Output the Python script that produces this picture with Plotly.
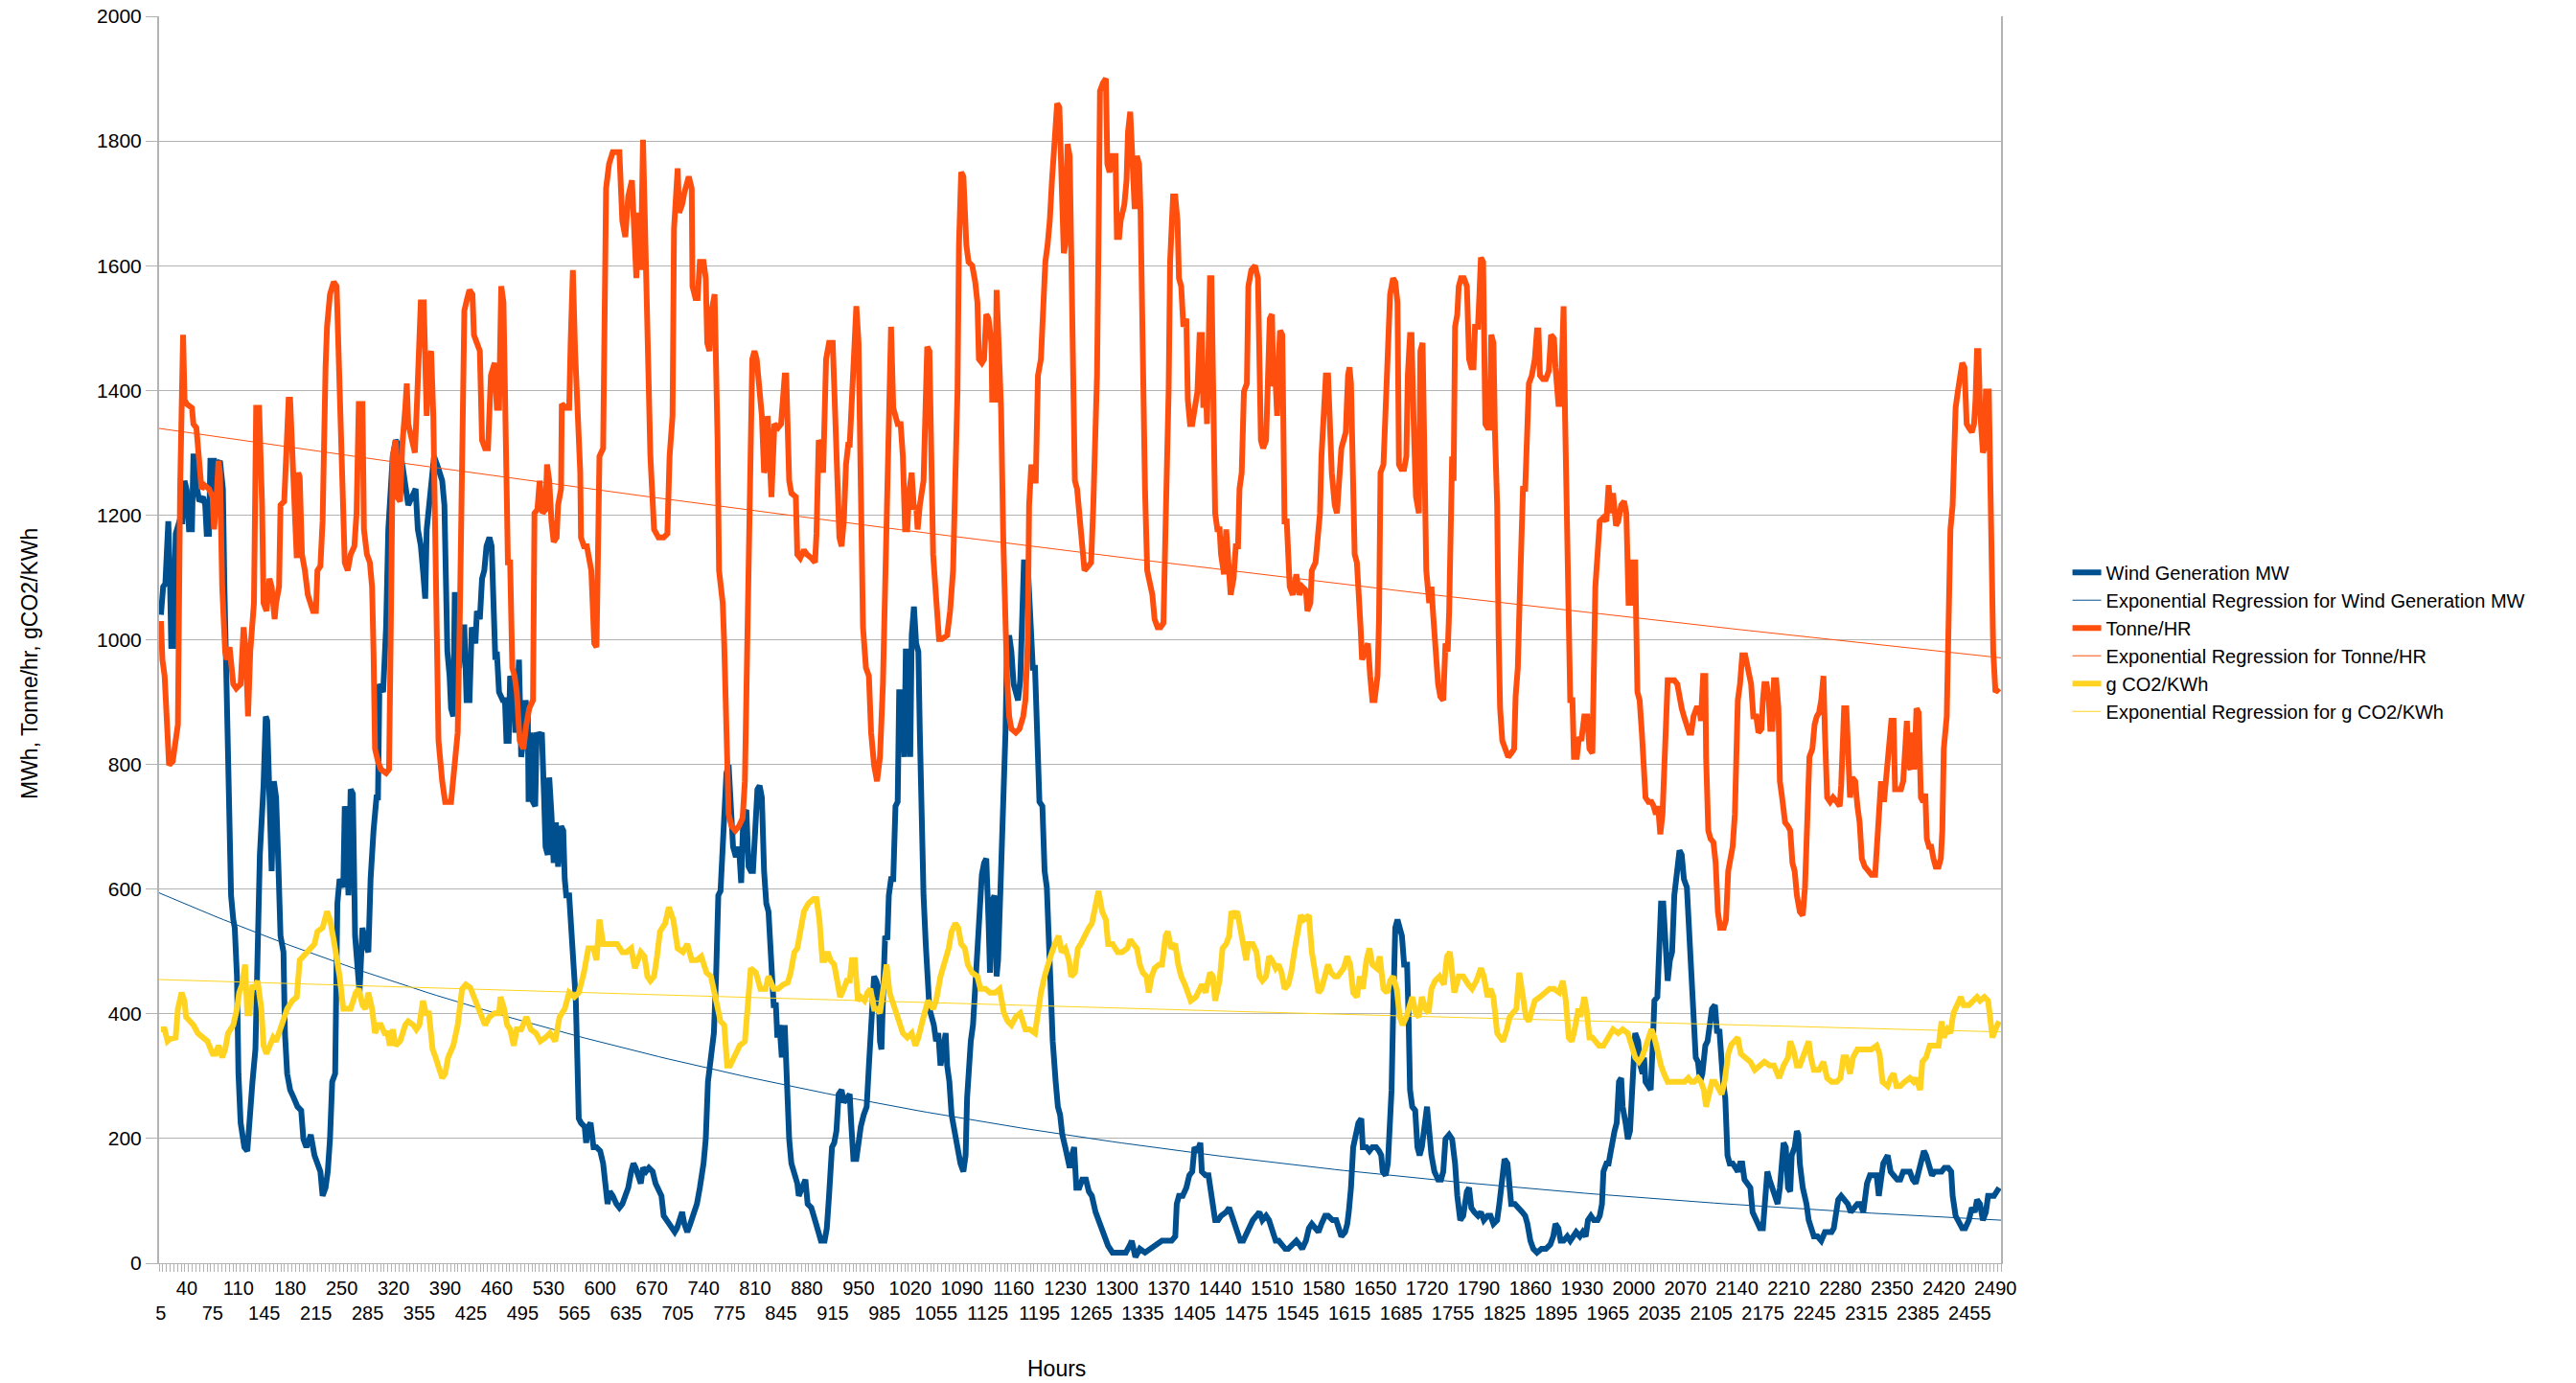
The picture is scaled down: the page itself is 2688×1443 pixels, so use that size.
import numpy as np
import plotly.graph_objects as go

# ---------------- data (hour, value) ----------------
wind_points = [
    (5,1040),(8,1085),(11,1090),(13,1160),(15,1190),(17,1110),(19,990),(22,990),(25,1170),(30,1190),(34,1190),
    (37,1255),(40,1240),(43,1177),(47,1177),(49,1294),(51,1294),(54,1242),(57,1222),(62,1229),(65,1216),(67,1170),
    (70,1170),(72,1287),(77,1287),(79,1229),(81,1281),(85,1287),(89,1242),(91,1085),(93,955),(96,812),(98,720),
    (100,590),(103,551),(105,538),(108,460),(110,304),(113,225),(118,186),(122,180),(125,238),(129,291),(133,343),
    (136,512),(139,655),(144,766),(147,877),(149,870),(152,747),(155,629),(158,773),(161,747),(164,642),(167,525),
    (171,499),(173,369),(176,304),(180,278),(185,265),(190,251),(195,245),(198,199),(202,186),(208,206),(213,173),
    (217,160),(221,147),(224,108),(228,121),(231,147),(234,199),(237,291),(241,304),(244,577),(247,616),(252,603),
    (254,733),(256,720),(259,590),(262,760),(265,753),(268,525),(271,486),(274,434),(278,538),(282,512),(286,499),
    (289,616),(293,694),(297,747),(299,747),(301,929),(306,916),(310,1020),(313,1177),(316,1242),(319,1294),
    (323,1320),(327,1313),(332,1281),(336,1242),(340,1216),(345,1229),(350,1242),(353,1177),(357,1151),(360,1111),
    (363,1066),(365,1177),(368,1216),(373,1268),(375,1294),(381,1274),(386,1255),(389,1216),(391,1111),(393,981),
    (396,942),(398,890),(401,877),(403,1072),(407,1072),(409,955),(413,1020),(416,1020),(419,903),(423,903),
    (426,1020),(431,994),(433,1046),(437,1033),(440,1098),(443,1111),(446,1150),(450,1164),(453,1150),(456,1059),
    (458,968),(460,981),(463,916),(468,903),(471,903),(473,838),(476,838),(478,942),(483,916),(485,851),(487,877),
    (490,968),(493,812),(497,851),(499,903),(502,877),(503,740),(506,851),(509,740),(512,733),(514,851),(517,844),
    (521,851),(524,747),(526,668),(529,655),(531,779),(534,720),(537,642),(540,707),(543,636),(547,701),(550,694),
    (552,616),(554,590),(558,590),(561,525),(564,460),(567,421),(569,330),(571,232),(574,225),(579,219),(581,193),
    (584,219),(587,225),(591,186),(595,186),(600,180),(604,160),(607,121),(610,95),(613,115),(617,108),(622,95),
    (626,89),(630,95),(634,108),(638,121),(642,147),(645,160),(648,153),(651,141),(655,128),(658,153),(662,147),
    (666,153),(671,147),(675,128),(679,115),(683,108),(686,76),(690,69),(694,63),(698,56),(701,50),(704,56),
    (707,69),(711,82),(714,63),(718,50),(722,63),(727,82),(731,95),(735,121),(740,160),(743,199),(746,291),
    (750,330),(754,369),(757,460),(760,590),(763,597),(766,668),(768,747),(771,786),(774,799),(777,720),(780,668),
    (783,655),(786,655),(788,668),(791,610),(794,720),(798,727),(801,636),(804,629),(807,629),(810,720),(813,760),
    (816,766),(819,747),(822,629),(825,577),(828,564),(832,460),(835,414),(838,414),(840,362),(843,382),(846,330),
    (850,382),(853,271),(856,199),(859,160),(863,141),(867,128),(869,108),(873,121),(878,134),(881,95),(886,89),
    (891,69),(895,50),(899,36),(904,36),(907,56),(910,108),(914,186),(917,193),(920,212),(923,271),(927,278),
    (930,258),(934,265),(938,271),(940,225),(943,167),(947,167),(950,199),(953,219),(957,238),(961,251),(964,317),
    (967,382),(971,460),(974,453),(977,440),(979,356),(981,343),(984,460),(986,525),(989,519),(991,590),(994,616),
    (997,616),(1000,733),(1003,740),(1005,916),(1009,916),(1012,812),(1014,981),(1018,981),(1020,812),(1022,1007),
    (1025,1053),(1028,994),(1031,981),(1033,851),(1035,720),(1038,590),(1041,512),(1043,460),(1046,408),(1049,395),
    (1052,382),(1055,356),(1058,369),(1061,317),(1065,356),(1068,369),(1070,317),(1073,291),(1076,238),(1081,206),
    (1085,186),(1088,160),(1092,147),(1095,173),(1097,265),(1099,317),(1102,356),(1105,382),(1108,440),(1111,512),
    (1114,538),(1117,623),(1120,642),(1123,649),(1126,551),(1128,466),(1130,577),(1134,590),(1137,460),(1139,486),
    (1143,629),(1146,720),(1149,851),(1151,981),(1154,1007),(1157,981),(1160,929),(1163,916),(1166,903),(1169,935),
    (1171,1033),(1174,1124),(1179,1124),(1182,1033),(1186,955),(1189,955),(1191,851),(1193,760),(1195,740),
    (1199,733),(1202,629),(1205,603),(1207,525),(1210,434),(1213,356),(1217,291),(1220,251),(1223,238),(1226,206),
    (1230,186),(1233,173),(1236,153),(1239,173),(1242,186),(1245,121),(1249,121),(1253,134),(1258,134),(1262,115),
    (1266,108),(1271,82),(1275,69),(1279,60),(1284,43),(1288,28),(1294,17),(1303,17),(1312,17),(1318,30),(1320,36),
    (1325,10),(1331,23),(1338,17),(1346,23),(1355,30),(1361,36),(1368,36),(1374,36),(1379,43),(1381,95),(1384,108),
    (1389,108),(1394,121),(1398,141),(1402,147),(1405,186),(1409,180),(1413,193),(1415,147),(1420,141),(1424,141),
    (1426,121),(1429,95),(1433,69),(1437,69),(1441,76),(1448,82),(1452,89),(1454,82),(1459,63),(1463,50),(1467,36),
    (1471,36),(1476,50),(1480,63),(1484,69),(1489,76),(1493,82),(1497,69),(1502,76),(1506,69),(1510,56),(1515,36),
    (1519,36),(1523,30),(1528,23),(1532,23),(1538,30),(1543,36),(1547,30),(1551,23),(1556,36),(1560,56),(1564,63),
    (1569,56),(1573,50),(1577,63),(1582,76),(1586,76),(1592,69),(1597,69),(1600,56),(1604,43),(1609,50),(1612,63),
    (1614,82),(1617,121),(1620,186),(1623,206),(1627,225),(1631,232),(1633,186),(1638,186),(1642,180),(1646,186),
    (1651,186),(1655,180),(1658,173),(1660,147),(1664,141),(1667,160),(1670,212),(1672,278),(1674,395),(1677,538),
    (1680,551),(1683,538),(1686,525),(1689,479),(1693,479),(1695,395),(1697,278),(1700,251),(1704,245),(1707,186),
    (1710,173),(1713,186),(1717,219),(1720,251),(1723,212),(1726,173),(1730,147),(1735,134),(1739,134),(1742,147),
    (1745,199),(1750,206),(1754,199),(1758,160),(1761,108),(1765,69),(1769,76),(1774,115),(1777,121),(1780,89),
    (1784,82),(1789,76),(1793,82),(1797,69),(1802,76),(1806,76),(1810,63),(1815,69),(1818,95),(1821,128),(1825,167),
    (1829,160),(1832,121),(1834,95),(1839,95),(1845,89),(1849,82),(1853,76),(1856,63),(1860,36),(1864,23),(1869,17),
    (1875,23),(1881,23),(1887,30),(1891,43),(1894,63),(1898,56),(1901,36),(1905,36),(1910,43),(1914,36),(1918,43),
    (1922,50),(1927,43),(1931,50),(1935,43),(1938,69),(1942,76),(1946,69),(1951,69),(1954,76),(1957,95),(1959,147),
    (1963,160),(1966,160),(1969,180),(1971,199),(1974,212),(1977,225),(1980,291),(1983,297),(1985,251),(1989,225),
    (1992,199),(1995,212),(1997,258),(2000,330),(2002,369),(2006,356),(2009,317),(2012,304),(2014,330),(2016,291),
    (2020,284),(2023,278),(2026,356),(2028,421),(2032,427),(2035,538),(2037,577),(2040,577),(2043,525),(2046,453),
    (2049,486),(2052,499),(2055,590),(2059,629),(2062,662),(2065,655),(2068,616),(2072,603),(2075,538),(2078,486),
    (2081,408),(2084,330),(2087,323),(2090,291),(2093,304),(2097,349),(2100,356),(2103,382),(2106,408),(2110,414),
    (2113,369),(2116,375),(2118,330),(2121,291),(2124,265),(2127,173),(2130,160),(2134,160),(2138,153),(2141,147),
    (2144,160),(2147,160),(2150,134),(2154,128),(2158,121),(2161,82),(2166,69),(2171,56),(2175,56),(2178,121),
    (2181,147),(2184,134),(2187,121),(2190,108),(2195,95),(2198,121),(2200,147),(2203,193),(2206,186),(2209,121),
    (2212,115),(2214,173),(2218,186),(2221,212),(2223,206),(2225,160),(2229,121),(2234,95),(2237,69),(2240,56),
    (2244,43),(2249,43),(2254,36),(2259,50),(2264,50),(2268,50),(2271,56),(2274,82),(2277,102),(2281,108),(2285,102),
    (2290,95),(2294,82),(2298,89),(2303,95),(2307,95),(2311,82),(2316,128),(2320,141),(2324,141),(2329,141),
    (2332,108),(2335,128),(2338,160),(2344,173),(2348,147),(2352,141),(2357,134),(2361,134),(2365,147),(2370,147),
    (2374,147),(2378,134),(2382,128),(2386,147),(2390,167),(2393,180),(2396,173),(2400,153),(2404,141),(2408,147),
    (2413,147),(2417,147),(2421,153),(2426,153),(2430,147),(2432,108),(2436,76),(2441,63),(2445,56),(2449,56),
    (2454,69),(2458,89),(2462,82),(2465,102),(2469,95),(2473,69),(2477,82),(2480,108),(2484,108),(2488,108),
    (2495,121),
]

tonne_points = [
    (5,1030),(7,968),(10,942),(14,825),(16,799),(21,805),(25,838),(28,864),(31,1242),(35,1489),(37,1385),(40,1378),
    (47,1372),(49,1346),(53,1340),(57,1268),(60,1242),(64,1248),(70,1242),(75,1229),(77,1177),(81,1242),(83,1287),
    (85,1268),(88,1085),(92,981),(94,968),(98,988),(103,929),(107,922),(113,929),(117,1020),(120,981),(123,877),
    (126,981),(131,1059),(134,1372),(138,1372),(142,1216),(144,1059),(148,1046),(152,1098),(155,1085),(159,1033),
    (161,1059),(165,1085),(167,1216),(172,1222),(174,1281),(178,1385),(180,1385),(183,1294),(185,1203),(189,1131),
    (191,1268),(193,1261),(196,1137),(200,1111),(204,1072),(211,1046),(215,1046),(217,1111),(221,1118),(224,1190),
    (228,1437),(230,1502),(234,1554),(239,1574),(243,1567),(245,1476),(247,1411),(250,1294),(254,1124),(258,1111),
    (262,1137),(267,1150),(270,1203),(273,1378),(278,1378),(280,1177),(284,1137),(288,1124),(291,1085),(293,981),
    (295,825),(299,805),(303,792),(310,786),(314,792),(316,981),(319,1294),(323,1320),(325,1229),(329,1222),
    (332,1313),(336,1372),(338,1411),(340,1346),(344,1320),(349,1300),(352,1385),(355,1463),(357,1541),(361,1541),
    (363,1411),(365,1359),(368,1450),(371,1463),(374,1359),(376,1216),(377,1059),(379,968),(381,838),(386,773),
    (390,740),(398,740),(403,799),(407,851),(410,1046),(414,1294),(416,1528),(420,1548),(423,1561),(427,1554),
    (429,1489),(433,1476),(437,1463),(440,1320),(444,1307),(448,1307),(452,1424),(457,1444),(460,1372),(463,1372),
    (466,1567),(469,1541),(472,1320),(475,1124),(478,1124),(481,955),(484,942),(487,916),(491,838),(496,825),
    (500,864),(504,890),(509,903),(511,1203),(515,1209),(518,1255),(522,1203),(526,1209),(528,1281),(531,1255),
    (534,1190),(537,1157),(541,1164),(543,1216),(547,1242),(548,1378),(554,1372),(558,1372),(560,1476),(563,1593),
    (566,1463),(569,1372),(573,1268),(574,1164),(578,1150),(582,1150),(585,1124),(588,1111),(592,994),(595,988),
    (597,1137),(599,1294),(604,1307),(606,1633),(608,1724),(612,1763),(617,1782),(621,1782),(626,1782),(630,1672),
    (634,1646),(638,1711),(643,1737),(646,1659),(649,1580),(652,1685),(655,1593),(658,1802),(661,1633),(663,1593),
    (666,1411),(668,1294),(673,1177),(679,1164),(686,1164),(691,1170),(694,1294),(698,1359),(700,1659),(703,1711),
    (705,1756),(707,1685),(711,1698),(714,1717),(720,1743),(724,1724),(725,1567),(729,1548),(732,1548),(735,1606),
    (740,1606),(743,1580),(745,1476),(748,1463),(751,1528),(755,1554),(757,1463),(759,1320),(761,1111),(766,1059),
    (768,994),(771,838),(774,720),(778,701),(783,694),(788,701),(793,714),(796,773),(799,981),(801,1085),(803,1294),
    (806,1450),(809,1463),(812,1450),(815,1411),(819,1359),(822,1268),(825,1281),(827,1359),(830,1242),(832,1229),
    (836,1346),(841,1340),(845,1346),(850,1424),(852,1424),(854,1320),(856,1255),(859,1235),(865,1229),(867,1137),
    (871,1131),(876,1144),(880,1137),(886,1131),(891,1124),(893,1170),(896,1320),(899,1313),(902,1268),(904,1359),
    (906,1450),(910,1476),(915,1476),(918,1372),(921,1268),(924,1164),(927,1150),(930,1190),(933,1281),(936,1313),
    (938,1313),(940,1372),(944,1476),(947,1535),(950,1476),(953,1203),(956,1020),(960,955),(964,942),(967,851),
    (971,799),(975,773),(979,812),(983,929),(986,1111),(989,1294),(992,1476),(994,1502),(997,1372),(1000,1359),
    (1003,1346),(1007,1346),(1010,1294),(1013,1177),(1016,1177),(1019,1242),(1022,1268),(1025,1209),(1028,1216),
    (1030,1177),(1033,1216),(1038,1255),(1041,1372),(1043,1470),(1046,1463),(1048,1294),(1051,1137),(1054,1085),
    (1057,1033),(1059,1001),(1063,1001),(1070,1007),(1074,1046),(1078,1111),(1081,1255),(1084,1398),(1086,1633),
    (1089,1750),(1092,1743),(1096,1633),(1099,1606),(1104,1600),(1108,1574),(1111,1541),(1113,1450),(1117,1444),
    (1120,1450),(1123,1522),(1126,1515),(1130,1476),(1131,1385),(1135,1385),(1137,1561),(1139,1502),(1141,1398),
    (1143,1372),(1146,1164),(1149,1007),(1151,942),(1154,877),(1157,857),(1163,851),(1168,857),(1173,877),(1176,903),
    (1179,994),(1181,1216),(1184,1281),(1187,1255),(1190,1255),(1193,1424),(1197,1450),(1200,1548),(1203,1606),
    (1206,1633),(1209,1672),(1212,1737),(1216,1795),(1219,1860),(1222,1854),(1225,1698),(1228,1620),(1230,1633),
    (1233,1795),(1236,1776),(1238,1593),(1241,1398),(1243,1255),(1246,1242),(1249,1203),(1253,1150),(1256,1111),
    (1261,1118),(1265,1124),(1268,1216),(1271,1320),(1273,1424),(1275,1633),(1277,1880),(1281,1893),(1285,1900),
    (1287,1763),(1290,1750),(1294,1776),(1298,1776),(1300,1646),(1303,1646),(1305,1672),(1310,1698),(1313,1737),
    (1315,1815),(1318,1847),(1320,1789),(1324,1691),(1327,1776),(1330,1763),(1332,1685),(1335,1411),(1338,1242),
    (1341,1111),(1344,1092),(1348,1072),(1351,1033),(1355,1020),(1359,1020),(1363,1027),(1366,1190),(1368,1268),
    (1370,1398),(1372,1606),(1376,1711),(1379,1711),(1382,1672),(1384,1580),(1387,1567),(1390,1502),(1394,1515),
    (1396,1385),(1399,1346),(1402,1346),(1406,1385),(1409,1398),(1412,1489),(1415,1489),(1417,1372),(1420,1424),
    (1422,1346),(1424,1489),(1426,1580),(1428,1580),(1430,1411),(1433,1203),(1436,1177),(1439,1177),(1441,1137),
    (1445,1105),(1448,1177),(1451,1124),(1454,1072),(1458,1098),(1461,1150),(1464,1150),(1466,1242),(1469,1268),
    (1472,1398),(1476,1411),(1478,1567),(1482,1593),(1487,1600),(1491,1580),(1493,1372),(1495,1320),(1498,1307),
    (1502,1320),(1505,1437),(1507,1515),(1510,1522),(1512,1411),(1515,1411),(1517,1359),(1519,1450),(1521,1496),
    (1524,1489),(1527,1190),(1530,1190),(1532,1111),(1534,1085),(1538,1072),(1543,1105),(1547,1072),(1551,1085),
    (1556,1079),(1558,1046),(1562,1059),(1564,1111),(1569,1124),(1572,1164),(1575,1203),(1577,1294),(1580,1346),
    (1583,1424),(1586,1424),(1589,1346),(1591,1268),(1595,1216),(1598,1203),(1601,1255),(1604,1307),(1607,1320),
    (1610,1333),(1613,1424),(1615,1437),(1617,1411),(1619,1268),(1622,1137),(1625,1124),(1628,1072),(1630,1020),
    (1632,968),(1636,981),(1640,994),(1643,942),(1646,903),(1649,903),(1653,942),(1655,1033),(1657,1268),(1661,1281),
    (1664,1372),(1666,1437),(1668,1502),(1670,1554),(1674,1580),(1677,1574),(1680,1541),(1682,1281),(1685,1274),
    (1689,1274),(1692,1294),(1694,1424),(1697,1489),(1699,1489),(1702,1346),(1705,1230),(1709,1203),(1711,1463),
    (1714,1476),(1717,1294),(1719,1111),(1723,1059),(1726,1085),(1728,1046),(1731,981),(1735,929),(1738,909),
    (1742,903),(1745,994),(1748,981),(1750,1046),(1752,1190),(1754,1294),(1756,1255),(1758,1502),(1761,1522),
    (1763,1567),(1766,1580),(1770,1580),(1774,1567),(1777,1450),(1780,1437),(1783,1437),(1785,1502),(1789,1502),
    (1791,1554),(1793,1613),(1796,1606),(1799,1346),(1802,1340),(1805,1340),(1807,1489),(1810,1476),(1812,1333),
    (1815,1216),(1817,1007),(1819,890),(1822,838),(1825,825),(1830,812),(1834,818),(1838,825),(1840,909),(1843,955),
    (1846,1085),(1848,1164),(1850,1242),(1853,1242),(1856,1333),(1858,1411),(1862,1424),(1866,1450),(1869,1496),
    (1871,1496),(1873,1424),(1877,1418),(1881,1418),(1885,1431),(1888,1489),(1892,1483),(1894,1437),(1898,1378),
    (1901,1378),(1903,1476),(1905,1535),(1907,1359),(1910,1203),(1912,1033),(1914,903),(1917,903),(1919,812),
    (1923,812),(1926,844),(1929,838),(1933,877),(1937,877),(1940,825),(1944,818),(1946,1033),(1948,1085),(1951,1137),
    (1954,1190),(1959,1196),(1963,1190),(1966,1248),(1969,1203),(1972,1235),(1976,1183),(1979,1190),(1983,1216),
    (1987,1222),(1990,1203),(1993,1059),(1996,1059),(1998,1124),(2002,1124),(2005,916),(2008,903),(2011,851),
    (2013,799),(2016,747),(2020,740),(2024,740),(2027,733),(2030,720),(2033,733),(2036,688),(2039,720),(2041,799),
    (2043,877),(2046,935),(2050,935),(2055,935),(2059,929),(2062,903),(2065,890),(2068,877),(2072,857),(2075,851),
    (2078,851),(2081,877),(2085,890),(2089,890),(2091,870),(2094,942),(2097,942),(2098,812),(2101,694),(2104,681),
    (2108,675),(2111,642),(2114,564),(2117,538),(2122,538),(2125,551),(2128,629),(2131,655),(2134,668),(2137,720),
    (2139,800),(2141,903),(2144,929),(2147,975),(2151,975),(2156,942),(2159,929),(2162,877),(2166,877),(2169,851),
    (2173,857),(2175,903),(2177,929),(2180,929),(2183,903),(2185,857),(2188,857),(2190,935),(2193,935),(2196,890),
    (2198,773),(2201,747),(2205,707),(2209,701),(2212,694),(2215,642),(2218,629),(2221,590),(2225,564),(2229,558),
    (2232,603),(2235,707),(2238,812),(2242,825),(2245,864),(2248,877),(2251,883),(2254,903),(2257,942),(2259,851),
    (2262,747),(2266,740),(2270,747),(2275,740),(2279,733),(2281,766),(2283,825),(2285,890),(2288,890),(2291,812),
    (2293,747),(2296,779),(2300,773),(2303,733),(2306,707),(2309,649),(2313,636),(2318,629),(2322,623),(2327,623),
    (2329,668),(2332,747),(2335,773),(2339,740),(2343,799),(2346,838),(2349,870),(2352,870),(2354,760),(2357,760),
    (2362,760),(2365,773),(2367,825),(2370,870),(2372,799),(2375,792),(2377,851),(2380,792),(2383,890),(2386,883),
    (2389,747),(2392,740),(2395,753),(2397,681),(2400,668),(2403,668),(2406,649),(2409,636),(2413,636),(2416,649),
    (2418,694),(2420,825),(2424,877),(2426,1020),(2429,1177),(2432,1216),(2434,1333),(2436,1372),(2439,1398),
    (2442,1424),(2445,1444),(2448,1437),(2451,1346),(2454,1340),(2458,1333),(2461,1346),(2463,1385),(2465,1463),
    (2467,1463),(2469,1372),(2471,1333),(2473,1300),(2475,1307),(2477,1398),(2481,1398),(2483,1242),(2485,1111),
    (2487,981),(2490,916),(2495,922),
]

co2_points = [
    (5,375),(10,375),(14,356),(18,360),(25,362),(28,408),(33,434),(37,420),(39,395),(44,388),(49,382),(55,369),
    (62,362),(68,356),(75,336),(79,336),(83,349),(88,330),(92,343),(96,369),(103,382),(108,408),(111,434),(115,447),
    (119,479),(122,401),(125,401),(129,447),(132,440),(136,453),(141,408),(144,349),(148,336),(152,349),(157,362),
    (161,356),(165,369),(170,388),(176,408),(183,421),(189,427),(193,486),(198,492),(202,499),(208,505),(213,512),
    (217,532),(224,538),(230,564),(234,551),(239,519),(243,492),(247,460),(252,408),(256,408),(262,408),(269,434),
    (273,440),(278,414),(282,408),(286,434),(291,408),(295,369),(299,382),(303,382),(308,369),(312,369),(315,349),
    (319,375),(323,349),(329,356),(336,382),(340,388),(347,382),(351,375),(355,382),(360,421),(364,401),(368,401),
    (373,343),(377,330),(381,317),(386,297),(390,304),(394,330),(401,349),(407,382),(413,440),(418,447),(424,442),
    (429,427),(435,408),(444,382),(450,395),(457,401),(463,401),(465,427),(470,408),(474,382),(478,375),(483,349),
    (487,375),(493,375),(500,395),(506,375),(513,369),(519,356),(526,362),(532,369),(539,356),(545,395),(552,408),
    (558,434),(565,427),(571,434),(578,466),(584,505),(591,505),(595,486),(599,551),(604,512),(610,512),(617,512),
    (623,512),(630,499),(636,499),(642,505),(647,473),(651,486),(655,499),(660,492),(664,460),(668,453),(673,460),
    (677,492),(681,532),(688,545),(693,571),(699,551),(705,505),(712,499),(718,512),(724,486),(731,486),(737,492),
    (744,466),(750,460),(757,421),(763,388),(768,382),(772,317),(776,317),(783,336),(789,349),(796,356),(800,408),
    (804,473),(811,466),(817,440),(824,440),(828,460),(835,440),(841,440),(848,447),(854,450),(858,466),(863,499),
    (867,505),(871,538),(876,564),(882,577),(889,584),(893,584),(897,551),(901,486),(904,486),(908,499),(912,486),
    (917,479),(921,453),(925,427),(930,440),(934,453),(938,453),(941,486),(945,486),(949,421),(953,427),(958,421),
    (962,434),(966,440),(971,408),(975,408),(979,401),(984,447),(988,479),(992,434),(997,414),(1003,395),(1010,369),
    (1016,362),(1022,369),(1027,349),(1031,362),(1038,395),(1044,421),(1051,408),(1055,421),(1061,460),(1068,486),
    (1072,505),(1076,532),(1081,545),(1085,538),(1089,512),(1094,505),(1098,479),(1104,466),(1111,460),(1115,440),
    (1122,440),(1128,434),(1135,434),(1141,440),(1147,401),(1152,388),(1157,382),(1163,395),(1169,401),(1176,375),
    (1182,375),(1189,369),(1193,408),(1197,434),(1202,460),(1206,479),(1210,492),(1216,512),(1221,525),(1225,499),
    (1230,505),(1235,486),(1238,460),(1243,466),(1247,505),(1251,512),(1256,525),(1262,538),(1266,545),(1271,577),
    (1275,597),(1280,564),(1285,551),(1288,512),(1294,512),(1301,499),(1307,499),(1314,505),(1318,519),(1322,512),
    (1327,505),(1331,479),(1335,466),(1340,460),(1343,434),(1347,460),(1351,473),(1357,479),(1361,479),(1366,525),
    (1369,532),(1373,505),(1379,512),(1383,479),(1387,460),(1392,447),(1396,434),(1400,421),(1407,427),(1411,440),
    (1415,447),(1420,434),(1426,466),(1430,460),(1433,421),(1439,453),(1443,505),(1448,512),(1452,525),(1455,564),
    (1459,558),(1463,564),(1467,538),(1471,512),(1475,486),(1478,512),(1484,512),(1489,499),(1493,460),(1497,453),
    (1502,460),(1506,492),(1510,486),(1515,473),(1519,479),(1523,466),(1527,440),(1532,447),(1536,466),(1541,505),
    (1545,538),(1549,558),(1553,551),(1560,558),(1564,499),(1569,460),(1573,434),(1577,440),(1582,466),(1586,479),
    (1590,466),(1595,460),(1599,460),(1603,466),(1607,473),(1612,492),(1616,479),(1620,434),(1625,427),(1629,460),
    (1633,440),(1638,486),(1642,505),(1646,479),(1652,473),(1656,492),(1661,440),(1666,434),(1670,453),(1674,460),
    (1679,440),(1683,395),(1687,382),(1692,395),(1696,408),(1700,427),(1705,400),(1709,395),(1713,427),(1718,408),
    (1722,401),(1726,440),(1731,453),(1737,460),(1743,447),(1747,492),(1751,499),(1754,473),(1757,434),(1763,460),
    (1769,460),(1776,447),(1781,440),(1787,453),(1793,473),(1797,460),(1802,427),(1806,440),(1810,427),(1815,369),
    (1819,362),(1823,356),(1828,375),(1832,395),(1836,401),(1841,408),(1845,466),(1849,440),(1854,395),(1858,388),
    (1862,408),(1866,421),(1873,427),(1879,434),(1886,440),(1892,440),(1899,434),(1904,453),(1908,421),(1912,362),
    (1916,356),(1920,375),(1925,408),(1928,395),(1933,427),(1936,408),(1940,362),(1944,362),(1949,356),(1953,349),
    (1959,349),(1966,362),(1972,375),(1979,369),(1985,375),(1992,369),(1998,349),(2002,330),(2007,323),(2011,330),
    (2015,343),(2020,362),(2024,375),(2028,362),(2033,330),(2037,317),(2041,304),(2046,291),(2050,291),(2056,291),
    (2063,291),(2069,291),(2074,297),(2078,291),(2082,291),(2087,297),(2091,291),(2095,278),(2098,251),(2102,271),
    (2106,291),(2110,291),(2115,278),(2119,271),(2123,291),(2128,336),(2132,350),(2136,356),(2141,362),(2145,336),
    (2151,330),(2158,323),(2164,310),(2171,317),(2177,323),(2184,317),(2190,317),(2197,297),(2203,317),(2209,330),
    (2212,356),(2216,343),(2221,317),(2225,317),(2229,330),(2234,349),(2237,356),(2240,330),(2244,310),(2251,310),
    (2257,323),(2262,297),(2268,291),(2275,291),(2280,297),(2284,330),(2288,330),(2293,304),(2297,330),(2303,343),
    (2309,343),(2316,343),(2322,343),(2329,349),(2333,336),(2337,291),(2344,284),(2348,297),(2352,304),(2356,284),
    (2361,284),(2367,291),(2374,297),(2379,291),(2382,297),(2388,278),(2391,323),(2396,330),(2401,349),(2406,349),
    (2413,349),(2417,388),(2420,362),(2425,375),(2429,369),(2433,401),(2438,414),(2443,427),(2447,414),(2454,414),
    (2460,421),(2465,427),(2469,421),(2475,427),(2480,421),(2483,395),(2486,362),(2490,375),(2495,388),
]

# exponential regression lines: value at left edge and right edge of the plot
wind_trend_ends = [594, 69]
tonne_trend_ends = [1339, 971]
co2_trend_ends = [455, 371]

series_names = ["Wind Generation MW", "Tonne/HR", "g CO2/KWh"]
series_colors = ["#00508f", "#ff4f0e", "#ffd320"]

x_min, x_max = 2.5, 2497.5
tick_hours = list(range(5, 2491, 35))
tick_text = [str(h) if i % 2 == 1 else "<br>" + str(h) for i, h in enumerate(tick_hours)]

FONT = "Liberation Sans, Arial, sans-serif"

# figure geometry (pixels)
W, H = 2688, 1443
ML, MR, MT, MB = 166, 600, 17, 125
PW, PH = W - ML - MR, H - MT - MB

fig = go.Figure()

def trend_curve(ends):
    xs = np.linspace(x_min, x_max, 200)
    a, b = ends
    return xs, a * (b / a) ** ((xs - x_min) / (x_max - x_min))

all_series = [wind_points, tonne_points, co2_points]
all_trends = [wind_trend_ends, tonne_trend_ends, co2_trend_ends]

for pts, trend, name, col in zip(all_series, all_trends, series_names, series_colors):
    hx, hy = zip(*pts)
    fig.add_trace(go.Scatter(x=hx, y=hy, mode="lines", name=name,
                             line=dict(color=col, width=6)))
    tx, ty = trend_curve(trend)
    fig.add_trace(go.Scatter(x=tx, y=ty, mode="lines",
                             name="Exponential Regression for " + name,
                             line=dict(color=col, width=1)))

grid = "#b3b3b3"
fig.update_layout(
    width=W, height=H,
    margin=dict(l=ML, r=MR, t=MT, b=MB, autoexpand=False),
    paper_bgcolor="white", plot_bgcolor="white",
    font=dict(family=FONT, size=20, color="#000000"),
    showlegend=True,
    legend=dict(x=1.0362, y=0.569, xanchor="left", yanchor="top",
                font=dict(size=20, family=FONT, color="#000000"),
                itemwidth=30, tracegroupgap=0, bgcolor="rgba(0,0,0,0)"),
    xaxis=dict(range=[x_min, x_max], tickmode="array", tickvals=tick_hours, ticktext=tick_text,
               ticks="outside", ticklen=8, tickcolor="rgba(0,0,0,0)",
               minor=dict(ticks="outside", ticklen=8, tickcolor=grid, tickwidth=1,
                          tick0=x_min, dtick=5, showgrid=False),
               tickangle=0, tickfont=dict(size=20), showgrid=False, zeroline=False,
               showline=True, linecolor=grid, linewidth=1, automargin=False),
    yaxis=dict(range=[0, 2000], tick0=0, dtick=200, ticks="outside", ticklen=12,
               tickcolor=grid, tickfont=dict(size=21), showgrid=True, gridcolor=grid,
               gridwidth=1, zeroline=False, showline=True, linecolor=grid, linewidth=2,
               mirror=True, automargin=False),
    annotations=[
        dict(text="Hours", xref="paper", yref="paper",
             x=(1102 - ML) / PW, y=(MT + PH - 1428) / PH, xanchor="center", yanchor="middle",
             showarrow=False, font=dict(size=23, family=FONT, color="#000000")),
        dict(text="MWh, Tonne/hr, gCO2/KWh", xref="paper", yref="paper",
             x=(31 - ML) / PW, y=(MT + PH - 693) / PH, xanchor="center", yanchor="middle",
             textangle=-90, showarrow=False, font=dict(size=23, family=FONT, color="#000000")),
    ],
)

fig.write_html("out.html", include_plotlyjs=True, config={"displayModeBar": False},
               post_script="document.body.style.margin='0';document.body.style.overflow='hidden';")
